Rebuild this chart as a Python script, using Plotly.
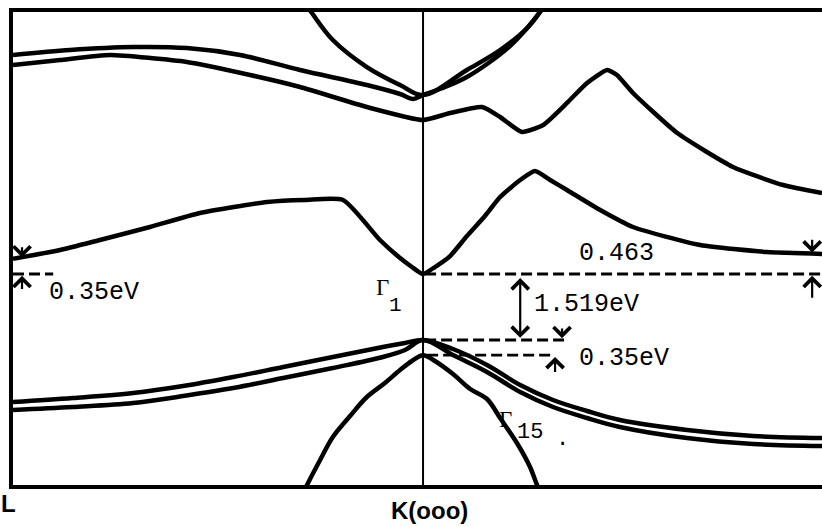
import plotly.graph_objects as go

# GaAs band structure sketch along L -> Gamma -> X.
# k: L = -1, Gamma = 0, X direction to the right.
# E: energy in eV measured from the valence-band maximum at Gamma.

E_GAP = 1.519   # Gamma1 conduction minimum above the valence top
D_SO = 0.35     # spin-orbit split-off at Gamma
D_L = 0.35      # L valley above Gamma1
D_X = 0.463     # X valley above Gamma1

# highest conduction band (parabola through Gamma)
k_c4 = [-0.288, -0.271, -0.220, -0.137, -0.056, 0.0, 0.107, 0.188, 0.254, 0.285, 0.298]
e_c4 = [7.756, 7.526, 6.904, 6.283, 5.869, 5.639, 6.214, 6.674, 7.181, 7.549, 7.756]

# upper conduction band of the L-side pair
k_c3 = [-1.0, -0.861, -0.707, -0.576, -0.446, -0.300, -0.137, -0.056, -0.024, 0.0,
        0.054, 0.107, 0.163, 0.212, 0.254, 0.285, 0.298]
e_c3 = [6.559, 6.674, 6.743, 6.720, 6.559, 6.214, 5.869, 5.662, 5.547, 5.639,
        5.823, 6.053, 6.398, 6.766, 7.181, 7.549, 7.756]

# second conduction band
k_c2 = [-1.0, -0.885, -0.763, -0.576, -0.422, -0.300, -0.137, 0.0, 0.066, 0.144,
        0.188, 0.241, 0.293, 0.351, 0.400, 0.449, 0.473, 0.512, 0.620, 0.756, 0.878, 0.973]
e_c2 = [6.329, 6.444, 6.559, 6.398, 6.099, 5.823, 5.362, 5.063, 5.224, 5.362,
        5.132, 4.787, 4.948, 5.455, 5.915, 6.214, 6.099, 5.685, 4.764, 3.982, 3.567, 3.383]

# lowest conduction band (Gamma1 minimum)
k_c1 = [-1.0, -0.885, -0.788, -0.666, -0.544, -0.380, -0.288, -0.195, -0.105, -0.056,
        -0.027, 0.0, 0.029, 0.066, 0.107, 0.151, 0.188, 0.237, 0.273, 0.310, 0.351,
        0.432, 0.512, 0.676, 0.839, 0.973]
e_c1 = [E_GAP + D_L, 2.071, 2.302, 2.601, 2.923, 3.176, 3.222, 3.222, 2.302, 1.887,
        1.680, E_GAP, 1.680, 1.933, 2.394, 2.854, 3.291, 3.682, 3.890, 3.682, 3.452,
        2.992, 2.601, 2.186, 2.025, E_GAP + D_X]

# valence bands: heavy hole and light hole
k_v = [-1.0, -0.854, -0.707, -0.585, -0.463, -0.341, -0.220, -0.098, -0.044, 0.0,
       0.073, 0.156, 0.237, 0.317, 0.400, 0.480, 0.644, 0.805, 0.973]
e_hh = [-1.427, -1.335, -1.220, -1.059, -0.852, -0.621, -0.391, -0.161, -0.069, 0.0,
        -0.207, -0.575, -1.036, -1.381, -1.634, -1.841, -2.071, -2.209, -2.256]
e_lh = [-1.611, -1.542, -1.450, -1.289, -1.105, -0.875, -0.644, -0.391, -0.230, 0.0,
        -0.345, -0.736, -1.197, -1.542, -1.795, -2.002, -2.256, -2.394, -2.440]

# split-off band
k_so = [-0.295, -0.283, -0.251, -0.220, -0.178, -0.137, -0.093, -0.056, -0.027, 0.0,
        0.029, 0.073, 0.115, 0.156, 0.188, 0.229, 0.261, 0.278, 0.290]
e_so = [-3.567, -3.337, -2.762, -2.232, -1.749, -1.312, -0.990, -0.690, -0.483, -D_SO,
        -0.483, -0.783, -1.128, -1.358, -1.795, -2.371, -2.923, -3.337, -3.567]

K_MIN, K_MAX = -1.0, 0.973
E_MIN, E_MAX = -3.337, 7.549

BLACK = "#000000"
MONO = "Liberation Mono, Courier New, monospace"
SERIF = "Liberation Serif, Times New Roman, serif"
SANS = "Liberation Sans, Arial, sans-serif"

fig = go.Figure()

bands = [
    (k_c4, e_c4, 1.0), (k_c3, e_c3, 0.9), (k_c2, e_c2, 0.5), (k_c1, e_c1, 0.55),
    (k_v, e_hh, 1.0), (k_v, e_lh, 1.0), (k_so, e_so, 1.0),
]
for ks, es, sm in bands:
    fig.add_trace(go.Scatter(
        x=ks, y=es, mode="lines",
        line=dict(color=BLACK, width=4.5, shape="spline", smoothing=sm),
        hoverinfo="skip", showlegend=False,
    ))

shapes = [
    # Gamma vertical
    dict(type="line", xref="x", yref="paper", x0=0, x1=0, y0=0, y1=1,
         line=dict(color=BLACK, width=2)),
]
dash = dict(color=BLACK, width=2.8, dash="11px,5px")
# reference levels
shapes += [
    dict(type="line", xref="x", yref="y", x0=0.005, x1=K_MAX, y0=E_GAP, y1=E_GAP, line=dash),
    dict(type="line", xref="x", yref="y", x0=0.005, x1=0.354, y0=0, y1=0, line=dash),
    dict(type="line", xref="x", yref="y", x0=0.01, x1=0.310, y0=-D_SO, y1=-D_SO, line=dash),
    dict(type="line", xref="x", yref="y", x0=K_MIN, x1=-0.902, y0=E_GAP, y1=E_GAP, line=dash),
]

annotations = []


def arrow(x, tip, tail, both=False):
    annotations.append(dict(
        x=x, y=tip, ax=x, ay=tail, xref="x", yref="y", axref="x", ayref="y",
        text="", showarrow=True, arrowhead=4, arrowsize=1.5, arrowwidth=2.2,
        arrowcolor=BLACK, arrowside="end+start" if both else "end",
    ))


# band gap
arrow(0.237, 0.05, E_GAP - 0.06, both=True)
# spin-orbit markers
arrow(0.339, 0.04, 0.30)
arrow(0.322, -D_SO - 0.04, -D_SO - 0.42)
# L valley markers
arrow(-0.978, E_GAP + D_L + 0.03, E_GAP + D_L + 0.30)
arrow(-0.978, E_GAP - 0.04, E_GAP - 0.38)
# X valley markers
arrow(0.949, E_GAP + D_X + 0.03, E_GAP + D_X + 0.36)
arrow(0.949, E_GAP - 0.04, E_GAP - 0.58)


def label(x, y, text, size, font=MONO, xanchor="left", ref="data", bold=False):
    annotations.append(dict(
        x=x, y=y, xref="x" if ref == "data" else "paper",
        yref="y" if ref == "data" else "paper",
        text=f"<b>{text}</b>" if bold else text,
        showarrow=False, xanchor=xanchor, yanchor="middle",
        font=dict(family=font, size=size, color=BLACK),
    ))


label(0.376, E_GAP + D_X + 0.02, "0.463", 25)
label(0.266, 0.806, "1.519eV", 25)
label(0.376, -0.437, "0.35eV", 25)
label(-0.917, 1.082, "0.35eV", 25)
label(-0.100, 1.220, "Γ", 23, font=SERIF, xanchor="center")
label(-0.066, 0.783, "1", 21, xanchor="center")
label(0.202, -1.820, "Γ", 23, font=SERIF, xanchor="center")
label(0.261, -2.140, "15", 22, xanchor="center")
label(0.339, -2.300, ".", 22, xanchor="center")
label(-0.005, -0.040, "L", 24, font=SANS, xanchor="center", ref="paper", bold=True)
label(0.515, -0.053, "K(ooo)", 24, font=SANS, xanchor="center", ref="paper", bold=True)

fig.update_layout(
    width=822, height=527,
    margin=dict(l=13, r=0, t=12, b=42),
    paper_bgcolor="white", plot_bgcolor="white",
    shapes=shapes, annotations=annotations,
    showlegend=False,
    xaxis=dict(range=[K_MIN, K_MAX], showgrid=False, zeroline=False,
               showticklabels=False, ticks="", showline=True, mirror=True,
               linecolor=BLACK, linewidth=3.5, fixedrange=True),
    yaxis=dict(range=[E_MIN, E_MAX], showgrid=False, zeroline=False,
               showticklabels=False, ticks="", showline=True, mirror=False,
               linecolor=BLACK, linewidth=3.5, fixedrange=True),
)

fig.write_html("out.html")
